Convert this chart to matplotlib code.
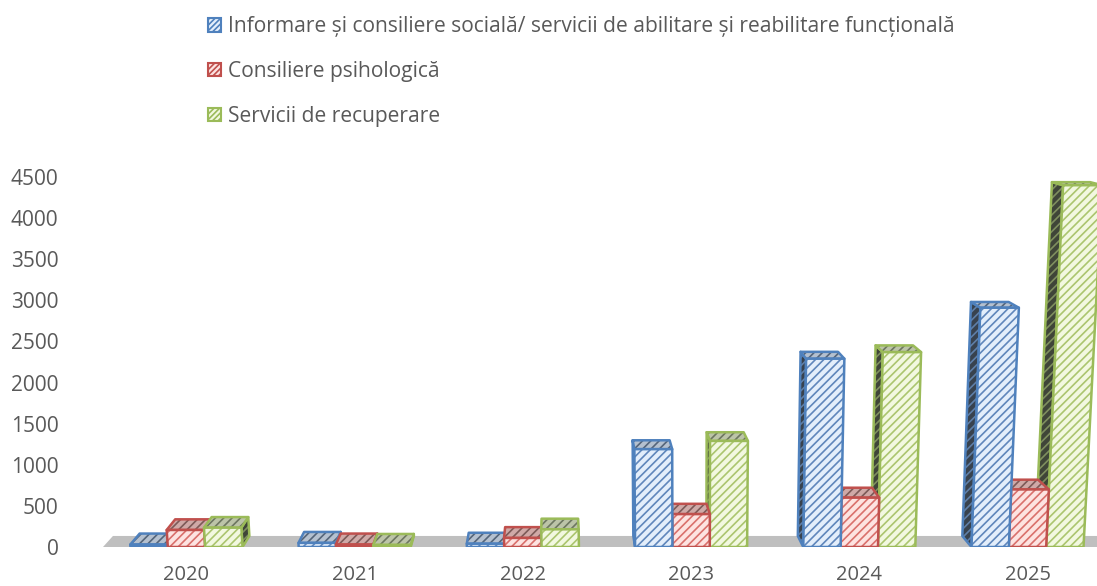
import matplotlib
matplotlib.use('Agg')
import matplotlib.pyplot as plt
from matplotlib.patches import Polygon, Patch

years = ['2020', '2021', '2022', '2023', '2024', '2025']
informare = [30, 50, 40, 1190, 2290, 2910]
consiliere = [207, 30, 110, 400, 600, 700]
recuperare = [235, 25, 215, 1290, 2370, 4400]
series_names = ['Informare și consiliere socială/ servicii de abilitare și reabilitare funcțională',
                'Consiliere psihologică',
                'Servicii de recuperare']
yticks = [0, 500, 1000, 1500, 2000, 2500, 3000, 3500, 4000, 4500]

# edge, front fill, front hatch, top fill, top hatch, side fill, side hatch
blue = ['#4f81bd', '#e3eefb', '#5f86bb', '#b4c0cf', '#55657a', '#38424e', '#5f7fa8']
red = ['#c0504d', '#fde3e1', '#d9706c', '#cfa9a7', '#7d5a58', '#4a3836', '#a06a68']
green = ['#9bbb59', '#f2f8e0', '#abc56e', '#bcc4a8', '#6d7760', '#3f4538', '#7f8f5f']

plt.rcParams['font.family'] = ['Open Sans', 'DejaVu Sans']
plt.rcParams['hatch.linewidth'] = 1.2

W, H = 1097, 586
fig = plt.figure(figsize=(W / 100, H / 100), dpi=100)
left, right, top, bottom = 103, 1097, 177, 547
ax = fig.add_axes([left / W, 1 - bottom / H, (right - left) / W, (bottom - top) / H])
step = 168.2
ax.set_xlim((left - 186.5) / step, (right - 186.5) / step)
ax.set_ylim(0, 4500)

bar_w = 0.222
depth = 0.022
vanish_x, vanish_y = 2.19, 6098
lean_x, lean_k = 2.99, 1.08e-5


def front(x, v):
    return x + (x - lean_x) * lean_k * v, v


def back(x, v):
    fx, fv = front(x, v)
    return fx + depth * (vanish_x - fx), fv + depth * (vanish_y - fv)


def face(points, fill, hatch_color, edge, z, hatch='////'):
    ax.add_patch(Polygon(points, closed=True, facecolor=fill, edgecolor=hatch_color,
                         hatch=hatch, linewidth=0, zorder=z))
    ax.add_patch(Polygon(points, closed=True, fill=False, edgecolor=edge,
                         linewidth=1.8, joinstyle='round', zorder=z + 0.1))


# floor
x0, x1 = ax.get_xlim()
floor = [front(x0, 0), front(x1 + 0.1, 0), back(x1 + 0.1, 0), back(x0, 0)]
ax.add_patch(Polygon(floor, closed=True, facecolor='#bfbfbf', edgecolor='none', zorder=1))

bars = []
for i in range(len(years)):
    for j, (vals, cols) in enumerate(zip([informare, consiliere, recuperare], [blue, red, green])):
        xl = i + (j - 1.5) * bar_w
        bars.append((abs(xl + bar_w / 2 - vanish_x), xl, vals[i], cols))

# bars far from the vanishing point are painted first
bars.sort(key=lambda b: -b[0])
z = 2
for _, xl, v, c in bars:
    xr = xl + bar_w
    if xl > vanish_x:
        side = [front(xl, 0), front(xl, v), back(xl, v), back(xl, 0)]
        face(side, c[5], c[6], c[0], z)
    elif xr < vanish_x:
        side = [front(xr, 0), front(xr, v), back(xr, v), back(xr, 0)]
        face(side, c[5], c[6], c[0], z)
    face([front(xl, v), front(xr, v), back(xr, v), back(xl, v)], c[3], c[4], c[0], z + 0.2)
    face([front(xl, 0), front(xr, 0), front(xr, v), front(xl, v)], c[1], c[2], c[0], z + 0.4)
    z += 1

ax.set_xticks(range(len(years)))
ax.set_xticklabels(years)
ax.set_yticks(yticks)
for s in ax.spines.values():
    s.set_visible(False)
ax.tick_params(axis='x', length=0, pad=13, labelsize=14.5, labelcolor='#595959')
ax.tick_params(axis='y', length=0, pad=32, labelsize=15, labelcolor='#595959')

handles = [Patch(facecolor=c[1], edgecolor=c[0], hatch='//////', linewidth=1.5) for c in [blue, red, green]]
fig.legend(handles, series_names, loc='upper left', bbox_to_anchor=(202 / W, 1 - 10 / H),
           frameon=False, fontsize=15.1, labelcolor='#595959', labelspacing=1.13,
           handlelength=0.62, handleheight=0.62, handletextpad=0.3, borderpad=0.3, borderaxespad=0)

fig.savefig('out.png', dpi=100)
plt.close(fig)
